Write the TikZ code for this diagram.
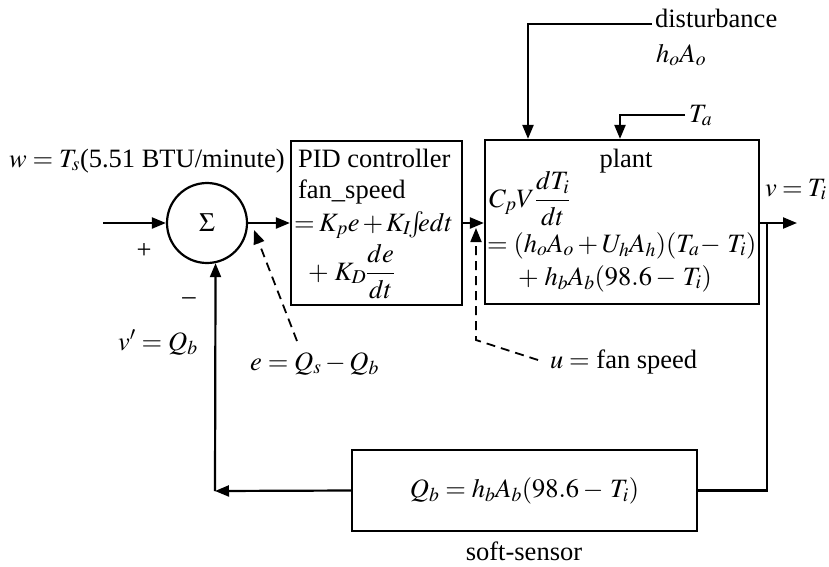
\documentclass[tikz,border=0pt]{standalone}
\usepackage{mathptmx}
\usepackage[no-math]{fontspec}
\setmainfont{Liberation Serif}
\usetikzlibrary{arrows.meta,calc}
\begin{document}
\begin{tikzpicture}[x=1pt,y=-1pt,
  font=\fontsize{26.5}{31}\selectfont,
  line width=2.2pt,
  arr/.style={-{Triangle[length=14pt,width=11pt]}},
  blk/.style={draw,line width=2.2pt,inner sep=0pt},
  lbl/.style={inner sep=0pt},
  dsh/.style={dash pattern=on 9pt off 6pt,line width=1.8pt}]
\useasboundingbox (0,0) rectangle (829,566);
% blocks
\node[blk,circle,minimum size=80pt] (sum) at (207,223) {$\Sigma$};
\node[blk,minimum width=171pt,minimum height=164pt] (pid) at (376.5,223) {};
\node[blk,minimum width=274pt,minimum height=164pt] (plant) at (622,222) {};
\node[blk,minimum width=345pt,minimum height=81pt] (soft) at (524.5,490.5) {$Q_b = h_bA_b(98.6 -\, T_i)$};
% block texts
\node[lbl,anchor=base west] (pid1) at (297,167) {PID controller};
\node[lbl,anchor=base west] (pid2) at (297,198) {fan\_speed};
\node[lbl,anchor=base west] (pid3) at (293,231) {\medmuskip=2mu\thickmuskip=3mu$= K_pe + K_I\!\!\int\!\!\! edt$};
\node[lbl,anchor=base west] (pid4) at (307,280) {$+\;K_D\displaystyle\frac{de}{dt}$};
\node[lbl,anchor=base] (plant1) at (626,167) {plant};
\node[lbl,anchor=base west] (plant2) at (488,207) {$C_pV\displaystyle\frac{dT_i}{dt}$};
\node[lbl,anchor=base west] (plant3) at (486,252) {$= (h_oA_o + U_hA_h)(T_a\!-\, T_i)$};
\node[lbl,anchor=base west] (plant4) at (517,285) {$+\;h_bA_b(98.6 -\, T_i)$};
% labels
\node[lbl,anchor=base west] (wlbl) at (8,167) {$w = T_s$(5.51 BTU/minute)};
\node[lbl] (plus) at (144,251) {+};
\node[lbl] (minus) at (189,301) {--};
\node[lbl,anchor=base west] (vp) at (117,350) {$v' = Q_b$};
\node[lbl,anchor=base west] (elbl) at (249,370) {$e = Q_s - Q_b$};
\node[lbl,anchor=base west] (ulbl) at (549,368) {$u =$ fan speed};
\node[lbl,anchor=base west] (vout) at (764,196) {\thickmuskip=3.5mu$v = T_i$};
\node[lbl,anchor=base west] (dist) at (654,27) {disturbance};
\node[lbl,anchor=base west] (hoao) at (655,62) {$h_oA_o$};
\node[lbl,anchor=base west] (ta) at (688,122) {$T_a$};
\node[lbl,anchor=base] (softlbl) at (524,560) {soft-sensor};
% coordinates
\coordinate (in) at (103,223);
\coordinate (tap) at (767,223);
\coordinate (out) at (797,223);
\coordinate (corner) at (215,491);
\coordinate (dstart) at (652,24);
\coordinate (dk) at (528,24);
\coordinate (tas) at (685,115);
\coordinate (tk) at (620,115);
\coordinate (e0) at (297,341);
\coordinate (etip) at (254,230);
\coordinate (u0) at (538,360);
\coordinate (ucorner) at (476,340);
\coordinate (utip) at (476,228);
% connectors
\draw[arr] (in) -- (sum.west);
\draw[arr] (sum.east) -- (pid.west);
\draw[arr] (pid.east) -- (pid.east -| plant.west);
\draw[arr] (plant.east |- tap) -- (out);
\draw (tap) -- (tap |- soft.east) -- (soft.east);
\draw[arr] (soft.west) -- (corner);
\draw[arr] (corner) -- (sum.-78);
\draw[arr] (dstart) -- (dk) -- (dk |- plant.north);
\draw[arr] (tas) -- (tk) -- (tk |- plant.north);
\draw[dsh,arr] (e0) -- (etip);
\draw[dsh,arr] (u0) -- (ucorner) -- (utip);
\end{tikzpicture}
\end{document}
